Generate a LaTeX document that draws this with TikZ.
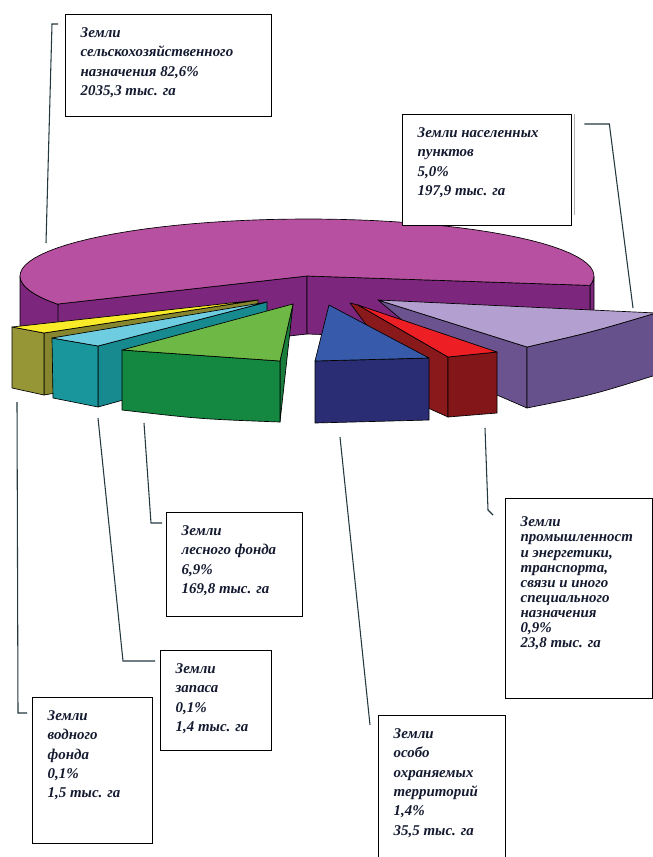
\documentclass[tikz,border=0pt]{standalone}
\usepackage{fontspec}
\setmainfont{Liberation Serif}
\definecolor{agritop}{HTML}{B750A0}
\definecolor{agriwall}{HTML}{7D267D}
\definecolor{lavtop}{HTML}{B4A0D0}
\definecolor{lavside}{HTML}{6A538E}
\definecolor{lavfront}{HTML}{67518C}
\definecolor{redtop}{HTML}{ED1E24}
\definecolor{redside}{HTML}{8A191B}
\definecolor{redfront}{HTML}{821618}
\definecolor{bluetop}{HTML}{375AAA}
\definecolor{navyfront}{HTML}{2A2D73}
\definecolor{greentop}{HTML}{6EB946}
\definecolor{greenfront}{HTML}{148741}
\definecolor{greenside}{HTML}{1A7D3C}
\definecolor{cyantop}{HTML}{6ECDE1}
\definecolor{tealfront}{HTML}{19969B}
\definecolor{tealside}{HTML}{168A8F}
\definecolor{yellowtop}{HTML}{FAEB28}
\definecolor{olivefront}{HTML}{969637}
\definecolor{oliveside}{HTML}{87862E}
\definecolor{labeltext}{HTML}{141A30}
\definecolor{leadcol}{HTML}{24383F}
\newcommand{\boxtext}[3]{\parbox[t][#2][t]{#1}{\raggedright\hyphenpenalty=10000 #3}}

\begin{document}
\begin{tikzpicture}[x=0.75pt,y=-0.75pt]
\tikzstyle{face}=[draw=black, line width=0.5pt, line join=round]
\tikzstyle{labelbox}=[draw=black, line width=1pt, fill=white, inner xsep=11.25pt, inner ysep=9.75pt, anchor=north west, text=labeltext, font=\bfseries\itshape\fontsize{11.2pt}{14.5pt}\selectfont]
\tikzstyle{leader}=[draw=leadcol, line width=0.8pt]
\useasboundingbox (0,0) rectangle (653,857);
\clip (0,0) rectangle (653,857);

% agricultural land
\filldraw[face, fill=agriwall] plot[domain=150:180, samples=12] ({307+287*cos(\x)},{276+57*sin(\x)}) -- plot[domain=180:150, samples=12] ({307+287*cos(\x)},{334+57*sin(\x)}) -- cycle;
\filldraw[face, fill=agriwall] plot[domain=0:9.5, samples=6] ({307+287*cos(\x)},{276+57*sin(\x)}) -- plot[domain=9.5:0, samples=6] ({307+287*cos(\x)},{334+57*sin(\x)}) -- cycle;
\filldraw[face, fill=agriwall] (58,304) -- (307,276) -- (307,334) -- (58,362) -- cycle;
\filldraw[face, fill=agriwall] (307,276) -- (590,285.4) -- (590,343.4) -- (307,334) -- cycle;
\filldraw[face, fill=agritop] (58,304) -- plot[domain=150:369.5, samples=60] ({307+287*cos(\x)},{276+57*sin(\x)}) -- (307,276) -- cycle;

% water fund
\filldraw[face, fill=oliveside] (44,333) -- (258,300) -- (258,358) -- (44,395) -- cycle;
\filldraw[face, fill=olivefront] (12,327) -- (44,333) -- (44,395) -- (12,388) -- cycle;
\filldraw[face, fill=yellowtop] (12,327) -- (44,333) -- (258,300) -- cycle;

% reserve
\filldraw[face, fill=tealside] (98,346) -- (267,302) -- (267,360) -- (98,407) -- cycle;
\filldraw[face, fill=tealfront] (52,338) -- (98,346) -- (98,407) -- (53,398) -- cycle;
\filldraw[face, fill=cyantop] (52,338) -- (98,346) -- (267,302) -- cycle;

% forest fund
\filldraw[face, fill=greenside] (280,361) -- (293,304) -- (280,422) -- cycle;
\filldraw[face, fill=greenfront] (122,350) -- (280,361) -- (280,422) .. controls (200,419) .. (122,410) -- cycle;
\filldraw[face, fill=greentop] (122,350) -- (280,361) -- (293,304) -- cycle;

% settlements
\filldraw[face, fill=lavside] (378,300) -- (527,347) -- (527,408) -- (497,395) -- (420,335) -- cycle;
\filldraw[face, fill=lavfront] (527,347) .. controls (592,332) .. (656,313) -- (656,375) .. controls (592,395) .. (527,408) -- cycle;
\filldraw[face, fill=lavtop] (378,300) -- (656,313) .. controls (592,332) .. (527,347) -- cycle;

% industry
\filldraw[face, fill=redside] (350,303) -- (358,305) -- (448,357) -- (448,417) -- (428,408) -- cycle;
\filldraw[face, fill=redfront] (448,357) -- (497,352) -- (497,413) -- (448,417) -- cycle;
\filldraw[face, fill=redtop] (358,305) -- (497,352) -- (448,357) -- cycle;

% protected territories
\filldraw[face, fill=navyfront] (315,361) -- (429,358) -- (429,420) -- (315,423) -- cycle;
\filldraw[face, fill=bluetop] (329,305) -- (315,361) -- (429,358) -- cycle;

% labels
\node[labelbox] (agri) at (65,14) {\boxtext{132pt}{57pt}{Земли\\сельскохозяйственного\\назначения 82,6\%\\2035,3 тыс. га}};
\node[labelbox] (sett) at (402,114) {\boxtext{104.25pt}{63.75pt}{Земли населенных\\пунктов\\5,0\%\\197,9 тыс. га}};
\node[labelbox] (forest) at (166,512) {\boxtext{79.5pt}{58.5pt}{Земли\\лесного фонда\\6,9\%\\169,8 тыс. га}};
\node[labelbox] (reserve) at (160,650) {\boxtext{60.75pt}{55.5pt}{Земли\\запаса\\0,1\%\\1,4 тыс. га}};
\node[labelbox] (water) at (32,697) {\boxtext{67.5pt}{90pt}{Земли\\водного\\фонда\\0,1\%\\1,5 тыс. га}};
\node[labelbox] (prot) at (378,715) {\boxtext{72.75pt}{100.5pt}{Земли\\особо\\охраняемых\\территорий\\1,4\%\\35,5 тыс. га}};
\node[labelbox, font=\bfseries\itshape\fontsize{11.2pt}{11.3pt}\selectfont] (ind) at (505,498) {\boxtext{87.75pt}{130.5pt}{\vspace*{4pt}Земли\\промышленност\\и энергетики,\\транспорта,\\связи и иного\\специального\\назначения\\0,9\%\\23,8 тыс. га}};
\draw[gray!60, line width=0.8pt] (sett.north east) ++(2.5,0) -- ++(0,101);

% leaders
\coordinate (agritip) at (46,243);
\coordinate (setttip) at (633,308);
\coordinate (foresttip) at (144,423);
\coordinate (reservetip) at (98,418);
\coordinate (watertip) at (17,402);
\coordinate (prottip) at (340,437);
\coordinate (indtip) at (485,428);
\draw[leader] (agri.north west) ++(-7,10) -- ++(-6,0) -- (agritip);
\draw[leader] (sett.north east) ++(12,10) -- ++(25,0) -- (setttip);
\draw[leader] (forest.north west) ++(-4,11) -- ++(-11,0) -- (foresttip);
\draw[leader] (reserve.north west) ++(-5,11) -- ++(-32,0) -- (reservetip);
\draw[leader] (water.north west) ++(-5,16) -- ++(-9,0) -- (watertip);
\draw[leader] (prot.north west) ++(-8,10) -- (prottip);
\draw[leader] (ind.north west) ++(-12,17) -- ++(-5,-5) -- (indtip);
\end{tikzpicture}
\end{document}
